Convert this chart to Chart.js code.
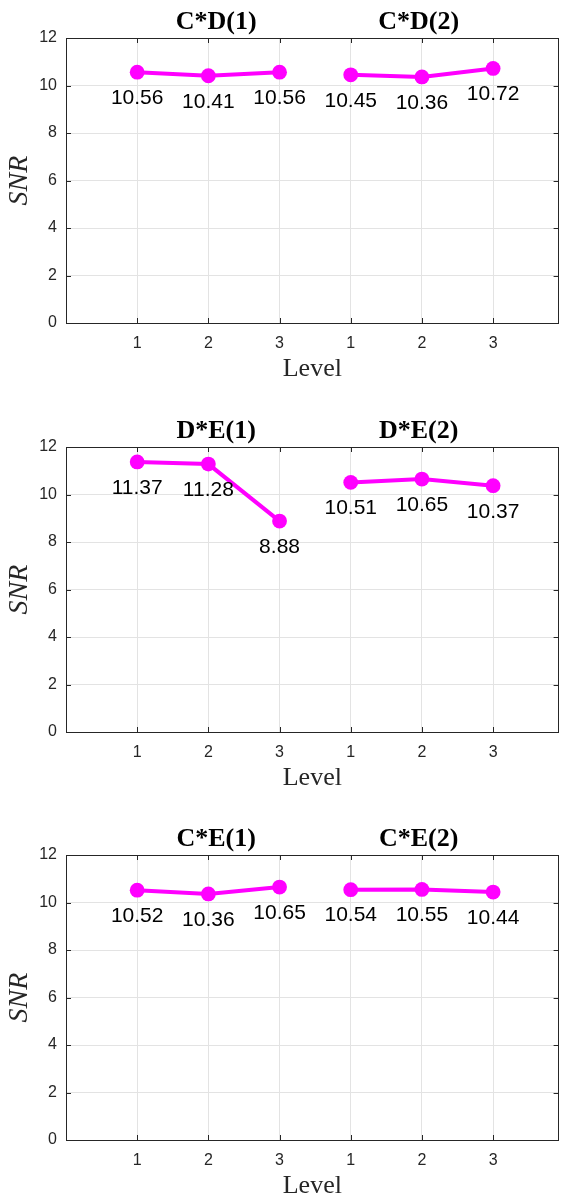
<!DOCTYPE html>
<html><head><meta charset="utf-8">
<script src="https://cdn.jsdelivr.net/npm/chart.js@4"></script>
<style>
html,body{margin:0;padding:0;background:#fff;width:561px;height:1197px;overflow:hidden;position:relative}
canvas{position:absolute;left:0}
</style></head><body>
<canvas id="c1" width="566" height="382" style="top:0px"></canvas>
<canvas id="c2" width="566" height="382" style="top:409px"></canvas>
<canvas id="c3" width="566" height="382" style="top:817px"></canvas>
<script>
// ---- data ----
const levels = [1, 2, 3];
const xTickLabels = ['1', '2', '3', '1', '2', '3'];
const yTickStep = 2;
const yMin = 0, yMax = 12;

const cdTitles = ['C*D(1)', 'C*D(2)'];
const cdSNR1 = [10.56, 10.41, 10.56];
const cdSNR2 = [10.45, 10.36, 10.72];

const deTitles = ['D*E(1)', 'D*E(2)'];
const deSNR1 = [11.37, 11.28, 8.88];
const deSNR2 = [10.51, 10.65, 10.37];

const ceTitles = ['C*E(1)', 'C*E(2)'];
const ceSNR1 = [10.52, 10.36, 10.65];
const ceSNR2 = [10.54, 10.55, 10.44];

// ---- style / layout ----
const MAGENTA = '#ff00ff';
const AXIS = '#262626';
const GRID = '#e3e3e3';
const groupOffset = 3;               // second group sits after first
const titleAnchors = [2.11, 4.955];  // x positions of the group titles
const xRange = [0, 6.92];

const boxPlugin = {
  id: 'box',
  beforeDatasetsDraw(chart) {
    const {ctx, chartArea: a, scales: {x, y}} = chart;
    ctx.save();
    ctx.strokeStyle = AXIS;
    ctx.lineWidth = 1;
    ctx.strokeRect(Math.round(a.left) + 0.5, Math.round(a.top) + 0.5,
                   Math.round(a.right - a.left) - 1, Math.round(a.bottom - a.top));
    ctx.beginPath();
    x.ticks.forEach(t => {
      const px = Math.round(x.getPixelForValue(t.value)) + 0.5;
      ctx.moveTo(px, a.bottom); ctx.lineTo(px, a.bottom - 5);
      ctx.moveTo(px, a.top); ctx.lineTo(px, a.top + 5);
    });
    y.ticks.forEach(t => {
      const py = Math.round(y.getPixelForValue(t.value)) + 0.5;
      ctx.moveTo(a.left, py); ctx.lineTo(a.left + 5, py);
      ctx.moveTo(a.right, py); ctx.lineTo(a.right - 5, py);
    });
    ctx.stroke();
    ctx.restore();
  }
};

const labelPlugin = {
  id: 'valueLabels',
  afterDatasetsDraw(chart) {
    const {ctx} = chart;
    ctx.save();
    ctx.font = '21px "Liberation Sans", Arial, sans-serif';
    ctx.fillStyle = '#000';
    ctx.textAlign = 'center';
    ctx.textBaseline = 'middle';
    chart.data.datasets.forEach((ds, di) => {
      const meta = chart.getDatasetMeta(di);
      meta.data.forEach((pt, i) => {
        ctx.fillText(ds.data[i].y.toFixed(2), pt.x, pt.y + 26);
      });
    });
    ctx.restore();
  }
};

const titlePlugin = {
  id: 'groupTitles',
  afterDraw(chart) {
    const {ctx, chartArea: a, scales: {x}} = chart;
    const titles = chart.options.plugins.groupTitles.titles;
    ctx.save();
    ctx.font = 'bold 26px "Liberation Serif", "Times New Roman", serif';
    ctx.fillStyle = '#000';
    ctx.textAlign = 'center';
    ctx.textBaseline = 'alphabetic';
    titles.forEach((t, i) => {
      ctx.fillText(t, x.getPixelForValue(titleAnchors[i]), a.top - 9);
    });
    ctx.restore();
  }
};

function makePanel(id, titles, s1, s2) {
  const ds = (vals, off) => ({
    data: levels.map((l, i) => ({x: l + off, y: vals[i]})),
    borderColor: MAGENTA,
    backgroundColor: MAGENTA,
    borderWidth: 4,
    pointRadius: 7.4,
    pointBorderWidth: 0,
    pointBackgroundColor: MAGENTA,
    tension: 0
  });
  const tickPositions = [...levels, ...levels.map(l => l + groupOffset)];
  new Chart(document.getElementById(id), {
    type: 'line',
    data: {datasets: [ds(s1, 0), ds(s2, groupOffset)]},
    plugins: [boxPlugin, labelPlugin, titlePlugin],
    options: {
      responsive: false,
      animation: false,
      devicePixelRatio: 1,
      layout: {padding: {top: 38, right: 0, left: 0, bottom: 0}},
      plugins: {
        legend: {display: false},
        tooltip: {enabled: false},
        groupTitles: {titles}
      },
      scales: {
        x: {
          type: 'linear',
          min: xRange[0], max: xRange[1],
          afterBuildTicks: s => { s.ticks = tickPositions.map(v => ({value: v})); },
          afterFit: s => { s.height = 59; },
          ticks: {
            callback: (v, i) => xTickLabels[i],
            font: {family: '"Liberation Sans", Arial, sans-serif', size: 16},
            color: AXIS,
            padding: 11,
            maxRotation: 0,
            autoSkip: false
          },
          grid: {color: GRID, drawTicks: false, lineWidth: 1},
          border: {display: false},
          title: {
            display: true, text: 'Level', color: AXIS,
            font: {family: '"Liberation Serif", "Times New Roman", serif', size: 26, lineHeight: 1},
            padding: {top: 0, bottom: 0}
          }
        },
        y: {
          min: yMin, max: yMax,
          afterFit: s => { s.width = 66; },
          ticks: {
            stepSize: yTickStep,
            font: {family: '"Liberation Sans", Arial, sans-serif', size: 16},
            color: AXIS,
            padding: 9
          },
          grid: {color: GRID, drawTicks: false, lineWidth: 1},
          border: {display: false},
          title: {
            display: true, text: 'SNR', color: AXIS,
            font: {family: '"Liberation Serif", "Times New Roman", serif', size: 28, style: 'italic', lineHeight: 1},
            padding: {top: 6, bottom: 0}
          }
        }
      }
    }
  });
}

makePanel('c1', cdTitles, cdSNR1, cdSNR2);
makePanel('c2', deTitles, deSNR1, deSNR2);
makePanel('c3', ceTitles, ceSNR1, ceSNR2);
</script>
</body></html>
